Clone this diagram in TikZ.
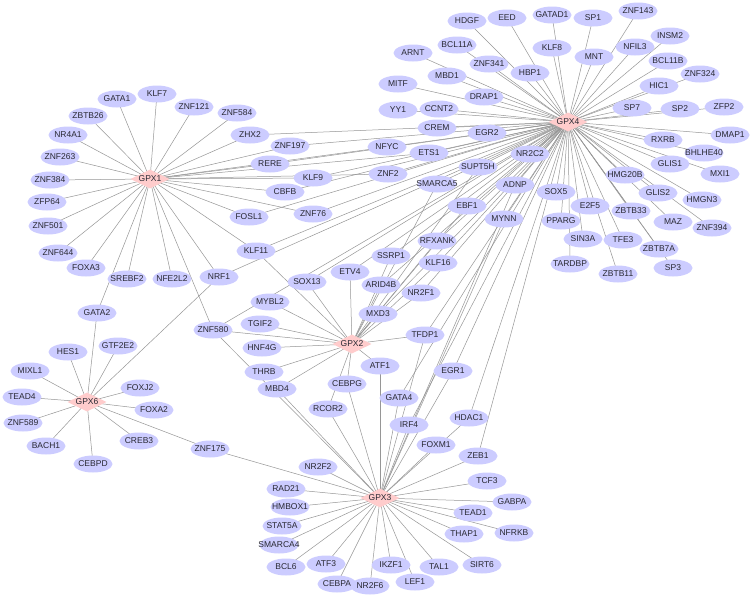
\documentclass[tikz,border=0pt]{standalone}
\usepackage{fontspec}
\setmainfont{Liberation Sans}
\usetikzlibrary{shapes.geometric}
\pgfdeclarelayer{bglayer}
\pgfdeclarelayer{edgelayer}
\pgfsetlayers{bglayer,edgelayer,main}
\definecolor{tfcol}{RGB}{204,204,255}
\definecolor{hubcol}{RGB}{255,204,204}
\definecolor{edgecol}{RGB}{150,150,150}
\definecolor{txtcol}{RGB}{40,40,50}
\tikzset{
  tfn/.style={ellipse, fill=tfcol, minimum width=39pt, minimum height=17pt, inner sep=0pt,
    font=\fontsize{8.5}{8.5}\selectfont, text=txtcol},
  hubn/.style={diamond, fill=hubcol, minimum width=39pt, minimum height=19pt, inner sep=0pt,
    font=\fontsize{8.5}{8.5}\selectfont, text=txtcol},
  link/.style={draw=edgecol, line width=0.5pt}
}
\newcommand\tfnode[2]{\node[tfn] (#1) at (#2) {\makebox[0pt]{#1}};}
\newcommand\hubnode[2]{\node[hubn] (#1) at (#2) {\makebox[0pt]{#1}};}
\newcommand\hublinks[2]{\foreach \nn in {#2} {\draw[link] (#1.center) -- (\nn.center);}}
\begin{document}
\begin{tikzpicture}[x=1pt,y=-1pt]
\begin{pgfonlayer}{bglayer}
\fill[white] (0,0) rectangle (753,597);
\end{pgfonlayer}
\useasboundingbox (0,0) rectangle (753,597);
% hubs
\hubnode{GPX1}{150,179}
\hubnode{GPX4}{568,122}
\hubnode{GPX2}{352,344}
\hubnode{GPX6}{87,402}
\hubnode{GPX3}{380,498}
% GPX1 group
\tfnode{GATA1}{117,99}
\tfnode{KLF7}{157,94}
\tfnode{ZNF121}{194,107}
\tfnode{ZNF584}{237,113}
\tfnode{ZBTB26}{88,116}
\tfnode{NR4A1}{68,135}
\tfnode{ZNF263}{60,157}
\tfnode{ZNF384}{50,180}
\tfnode{ZFP64}{47,202}
\tfnode{ZNF501}{48,226}
\tfnode{ZNF644}{58,253}
\tfnode{FOXA3}{86,268}
\tfnode{SREBF2}{127,279}
\tfnode{NFE2L2}{172,279}
\tfnode{ZHX2}{250,135}
\tfnode{ZNF197}{290,146}
\tfnode{RERE}{270,164}
\tfnode{KLF9}{313,178}
\tfnode{CBFB}{285,192}
\tfnode{FOSL1}{249,217}
\tfnode{ZNF76}{313,214}
\tfnode{KLF11}{256,251}
\tfnode{NRF1}{219,277}
% GPX4 group
\tfnode{HDGF}{467,21}
\tfnode{EED}{507,18}
\tfnode{GATAD1}{552,15}
\tfnode{SP1}{593,18}
\tfnode{ZNF143}{638,11}
\tfnode{INSM2}{670,36}
\tfnode{KLF8}{552,48}
\tfnode{MNT}{594,57}
\tfnode{NFIL3}{635,47}
\tfnode{BCL11B}{668,61}
\tfnode{HBP1}{530,73}
\tfnode{ZNF324}{700,74}
\tfnode{HIC1}{659,86}
\tfnode{SP7}{632,108}
\tfnode{SP2}{680,109}
\tfnode{ZFP2}{724,107}
\tfnode{DMAP1}{730,135}
\tfnode{RXRB}{663,140}
\tfnode{BHLHE40}{704,153}
\tfnode{GLIS1}{670,164}
\tfnode{MXI1}{720,174}
\tfnode{HMG20B}{625,175}
\tfnode{GLIS2}{658,193}
\tfnode{HMGN3}{702,200}
\tfnode{MAZ}{673,222}
\tfnode{ZNF394}{712,228}
\tfnode{ZBTB33}{631,211}
\tfnode{ZBTB7A}{659,249}
\tfnode{SP3}{673,268}
\tfnode{TFE3}{623,240}
\tfnode{ZBTB11}{618,274}
\tfnode{E2F5}{590,206}
\tfnode{SIN3A}{583,239}
\tfnode{TARDBP}{570,264}
\tfnode{PPARG}{561,221}
\tfnode{SOX5}{556,192}
\tfnode{NR2C2}{530,154}
\tfnode{ADNP}{515,185}
\tfnode{BCL11A}{457,45}
\tfnode{ARNT}{413,53}
\tfnode{ZNF341}{489,64}
\tfnode{MBD1}{447,76}
\tfnode{MITF}{398,84}
\tfnode{DRAP1}{484,97}
\tfnode{YY1}{398,110}
\tfnode{CCNT2}{439,109}
\tfnode{CREM}{437,128}
\tfnode{EGR2}{487,133}
\tfnode{NFYC}{387,147}
\tfnode{ETS1}{429,153}
\tfnode{ZNF2}{388,174}
\tfnode{SUPT5H}{478,167}
\tfnode{SMARCA5}{437,184}
\tfnode{EBF1}{467,206}
\tfnode{MYNN}{504,219}
% GPX2 group
\tfnode{RFXANK}{437,241}
\tfnode{SSRP1}{391,256}
\tfnode{KLF16}{438,263}
\tfnode{ETV4}{350,272}
\tfnode{SOX13}{307,282}
\tfnode{ARID4B}{381,285}
\tfnode{NR2F1}{421,293}
\tfnode{MYBL2}{270,302}
\tfnode{MXD3}{378,314}
\tfnode{TGIF2}{260,324}
\tfnode{ZNF580}{213,330}
\tfnode{TFDP1}{425,335}
\tfnode{HNF4G}{262,348}
\tfnode{ATF1}{380,366}
\tfnode{THRB}{264,372}
\tfnode{EGR1}{453,371}
\tfnode{CEBPG}{347,384}
\tfnode{MBD4}{277,389}
\tfnode{GATA4}{399,398}
\tfnode{RCOR2}{328,409}
\tfnode{IRF4}{409,425}
\tfnode{HDAC1}{469,418}
\tfnode{FOXM1}{436,445}
\tfnode{ZEB1}{478,456}
% GPX6 group
\tfnode{GATA2}{97,313}
\tfnode{GTF2E2}{118,346}
\tfnode{HES1}{68,352}
\tfnode{MIXL1}{30,371}
\tfnode{FOXJ2}{140,388}
\tfnode{TEAD4}{22,397}
\tfnode{FOXA2}{154,410}
\tfnode{ZNF589}{23,423}
\tfnode{CREB3}{139,441}
\tfnode{BACH1}{46,446}
\tfnode{CEBPD}{93,464}
\tfnode{ZNF175}{210,449}
% GPX3 group
\tfnode{NR2F2}{318,467}
\tfnode{TCF3}{487,481}
\tfnode{RAD21}{286,489}
\tfnode{HMBOX1}{290,507}
\tfnode{GABPA}{512,502}
\tfnode{TEAD1}{473,513}
\tfnode{STAT5A}{282,526}
\tfnode{THAP1}{464,534}
\tfnode{NFRKB}{514,533}
\tfnode{SMARCA4}{279,545}
\tfnode{BCL6}{286,567}
\tfnode{ATF3}{326,564}
\tfnode{IKZF1}{391,565}
\tfnode{TAL1}{439,567}
\tfnode{SIRT6}{482,565}
\tfnode{LEF1}{415,582}
\tfnode{CEBPA}{337,584}
\tfnode{NR2F6}{370,586}
% edges
\begin{pgfonlayer}{edgelayer}
\hublinks{GPX1}{GATA1,KLF7,ZNF121,ZNF584,ZBTB26,NR4A1,ZNF263,ZNF384,ZFP64,ZNF501,ZNF644,FOXA3,GATA2,SREBF2,NFE2L2,NRF1,ZNF580,KLF11,FOSL1,ZNF76,CBFB,KLF9,RERE,ZNF197,ZHX2,NFYC,ZNF2,ETS1}
\hublinks{GPX4}{HDGF,EED,GATAD1,SP1,ZNF143,INSM2,KLF8,MNT,NFIL3,BCL11B,HBP1,ZNF324,HIC1,SP7,SP2,ZFP2,DMAP1,RXRB,BHLHE40,GLIS1,MXI1,HMG20B,GLIS2,HMGN3,MAZ,ZNF394,ZBTB33,ZBTB7A,SP3,TFE3,ZBTB11,E2F5,SIN3A,TARDBP,PPARG,SOX5,NR2C2,ADNP,BCL11A,ARNT,ZNF341,MBD1,MITF,DRAP1,YY1,CCNT2,CREM,EGR2,NFYC,ETS1,ZNF2,SUPT5H,SMARCA5,EBF1,MYNN}
\hublinks{GPX4}{ZHX2,ZNF197,RERE,KLF9,CBFB,ZNF76,FOSL1,KLF11,NRF1,SOX13,ZNF580,ETV4,SSRP1,ARID4B,KLF16,RFXANK,NR2F1,MXD3,TFDP1,GATA4,IRF4,EGR1,HDAC1,ZEB1}
\hublinks{GPX2}{SOX13,ETV4,SSRP1,ARID4B,MXD3,NR2F1,KLF16,RFXANK,EBF1,SUPT5H,SMARCA5,TFDP1,ATF1,CEBPG,RCOR2,MBD4,THRB,HNF4G,TGIF2,MYBL2,ZNF580,KLF11}
\hublinks{GPX3}{ZNF175,MBD4,ZNF580,RCOR2,CEBPG,ATF1,GATA4,IRF4,EGR1,FOXM1,HDAC1,ZEB1,TCF3,GABPA,TEAD1,NFRKB,THAP1,SIRT6,TAL1,LEF1,IKZF1,NR2F6,CEBPA,ATF3,BCL6,SMARCA4,STAT5A,HMBOX1,RAD21,NR2F2,TFDP1,MYNN,ADNP}
\hublinks{GPX6}{GATA2,HES1,GTF2E2,MIXL1,TEAD4,ZNF589,BACH1,CEBPD,CREB3,FOXA2,FOXJ2,ZNF175,NRF1}
\end{pgfonlayer}
\end{tikzpicture}
\end{document}
